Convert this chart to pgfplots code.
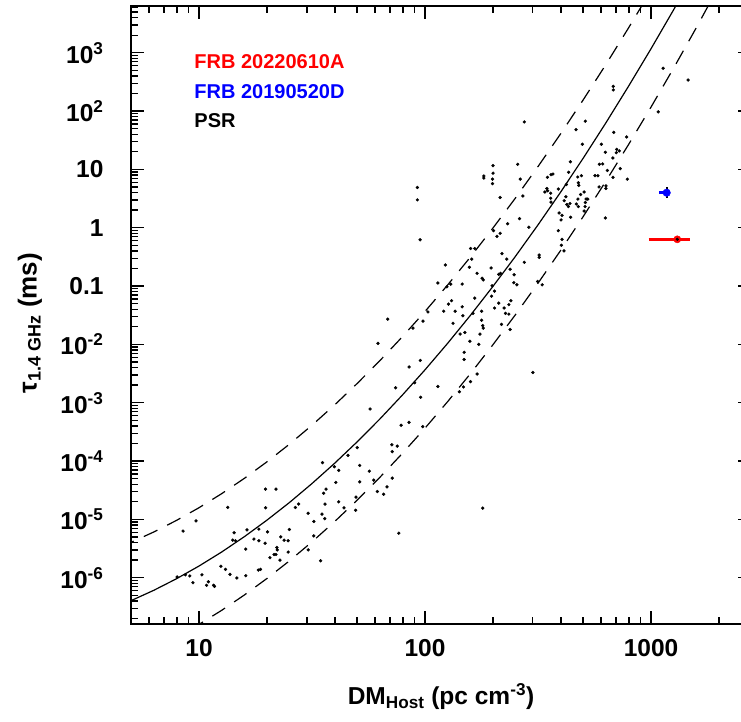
\documentclass[border=0pt]{standalone}
\usepackage{fontspec}
\setmainfont{Liberation Sans}
\usepackage{pgfplots}
\usepackage{pgfplotstable}
\pgfplotsset{compat=1.18}

\pgfplotstableread{
dm tau
8.5 6.3e-6
9.7 9.4e-6
13.4 1.6e-5
8.0 1.03e-6
8.7 1.12e-6
9.1 1.07e-6
9.4 8.2e-7
10.3 1.12e-6
11.0 8.5e-7
10.8 7.4e-7
11.6 7.4e-7
11.7 7.1e-7
12.5 1.57e-6
13.1 1.39e-6
13.7 1.14e-6
14.7 9.9e-7
16.1 1.08e-6
18.3 1.35e-6
18.7 1.39e-6
14.3 5.9e-6
14.1 4.4e-6
14.5 4.3e-6
16.3 6.6e-6
16.1 3.1e-6
18.4 6.8e-6
17.5 4.6e-6
18.4 4.3e-6
19.6 3.9e-6
20.1 6.1e-6
19.7 3.3e-5
21.9 3.3e-5
19.7 1.58e-5
23.0 5.0e-6
23.8 4.4e-6
24.8 4.3e-6
25.1 6.7e-6
22.1 3.3e-6
22.2 3.0e-6
21.5 2.5e-6
21.9 2.5e-6
20.6 2.2e-6
22.8 2.0e-6
24.8 2.75e-6
26.7 1.6e-5
27.6 1.83e-5
30.4 1.27e-5
32.2 9.2e-6
32.2 5.2e-6
30.4 3.0e-6
34.5 1.95e-6
35.2 9.4e-5
35.6 2.8e-5
36.5 3.3e-5
36.1 1.83e-5
35.0 1.23e-5
36.0 1.03e-5
39.7 8.0e-5
41.5 6.9e-5
40.3 4.3e-5
41.5 2.0e-5
43.8 1.58e-5
45.6 1.25e-4
68.4 2.7e-2
61.9 1.04e-2
103 3.6e-2
121 3.7e-2
127 4.9e-2
98 2.5e-2
88.4 1.9e-2
85 4.1e-3
95.3 5.3e-3
90 2.2e-3
74.1 1.8e-3
95.7 1.24e-3
114 1.9e-3
57.1 7.8e-4
78.4 4.1e-4
85 4.6e-4
97.7 3.9e-4
71.3 1.9e-4
75.4 1.8e-4
71.6 1.45e-4
50.1 1.7e-4
51.4 8.4e-5
56.7 6.7e-5
51.4 4.4e-5
59.3 4.7e-5
71.6 5.1e-5
67.9 3.6e-5
61.5 3.0e-5
65.6 2.7e-5
49.5 2.4e-5
49.3 1.43e-5
76.6 5.8e-6
180 1.56e-5
300 3.3e-3
158 1.13e-2
173 1.0e-2
149 7.3e-3
149 5.5e-3
170 3.1e-3
159 2.3e-3
148 1.86e-3
142 1.54e-3
200 11.6
257 12.2
182 7.7
182 7.1
200 8.6
199 6.8
199 5.7
264 6.8
271 3.5
215 3.3
92.5 4.9
92.5 3.0
95.1 0.62
262 1.43
232 1.17
288 1.02
201 0.89
215 0.80
208 0.71
159 0.44
166 0.44
161 0.29
219 0.36
230 0.29
157 0.21
123 0.23
170 0.165
179 0.136
181 0.127
196 0.204
212 0.159
216 0.165
238 0.194
248 0.156
247 0.114
255 0.105
275 0.255
320 0.34
320 0.31
315 0.12
330 0.105
130 0.108
125 0.097
114 0.113
146 0.108
198 0.101
203 0.082
197 0.067
166 0.062
131 0.056
146 0.044
147 0.031
136 0.037
178 0.037
163 0.034
212 0.051
224 0.042
235 0.048
240 0.056
227 0.034
235 0.033
203 0.042
178 0.026
180 0.021
181 0.019
133 0.023
150 0.016
143 0.015
175 0.015
218 0.022
238 0.018
440 13.5
432 8.9
348 7.3
361 8.1
368 8.3
474 7.4
477 5.9
346 4.7
339 4.1
349 4.3
360 3.9
389 4.6
420 3.4
413 2.9
360 3.2
361 2.75
424 2.5
431 2.3
438 2.6
467 2.55
477 2.3
392 1.79
404 1.63
400 1.36
441 1.51
389 0.89
404 0.63
401 0.50
412 0.40
275 65
681 265
681 230
1132 541
1076 97
1459 340
512 67
466 48
684 43
780 36
603 27
497 27
705 22
724 20.7
702 19.3
628 19.6
678 15.7
591 12.2
611 12.4
731 10.3
641 9.6
565 7.8
582 7.8
679 7.3
786 6.8
632 5.2
632 4.7
589 5.0
492 7.8
479 5.3
422 5.5
506 4.1
525 3.1
516 3.1
512 2.7
488 3.7
475 3.1
511 2.3
506 1.93
628 1.47
}\psrdata

\pgfplotstableread{
dm mid up lo
4.467 3.373e-7 3.373e-6 3.373e-8
5.012 4.055e-7 4.055e-6 4.055e-8
6.310 6.08e-7 6.08e-6 6.08e-8
7.943 9.58e-7 9.58e-6 9.58e-8
10 1.585e-6 1.585e-5 1.585e-7
12.59 2.754e-6 2.754e-5 2.754e-7
15.85 5.03e-6 5.03e-5 5.03e-7
19.95 9.65e-6 9.65e-5 9.65e-7
25.12 1.943e-5 1.943e-4 1.943e-6
31.62 4.116e-5 4.116e-4 4.116e-6
39.81 9.15e-5 9.15e-4 9.15e-6
50.12 2.138e-4 2.138e-3 2.138e-5
63.10 5.247e-4 5.247e-3 5.247e-5
79.43 1.353e-3 1.353e-2 1.353e-4
100 3.664e-3 3.664e-2 3.664e-4
125.9 1.042e-2 1.042e-1 1.042e-3
158.5 3.115e-2 3.115e-1 3.115e-3
199.5 9.781e-2 9.781e-1 9.781e-3
251.2 0.3227 3.227 0.03227
316.2 1.118 11.18 0.1118
398.1 4.069 40.69 0.4069
501.2 15.56 155.6 1.556
631.0 62.5 625 6.25
794.3 263.8 2638 26.38
1000 1169 11690 116.9
1259 5445 54450 544.5
1585 26640 266400 2664
1995 1.369e5 1.369e6 1.369e4
2512 7.39e5 7.39e6 7.39e4
3162 4.19e6 4.19e7 4.19e5
}\curves

\begin{document}
\begin{tikzpicture}
\begin{axis}[
  at={(0pt,0pt)}, anchor=south west,
  scale only axis, width=620pt, height=618pt,
  xmode=log, ymode=log,
  xmin=5, xmax=2770, ymin=1.607e-7, ymax=6320,
  xtick={10,100,1000}, xticklabels={10,100,1000},
  minor xtick={6,7,8,9,20,30,40,50,60,70,80,90,200,300,400,500,600,700,800,900,2000},
  ytick={1e-6,1e-5,1e-4,1e-3,1e-2,0.1,1,10,100,1000},
  yticklabels={10\textsuperscript{-6},10\textsuperscript{-5},10\textsuperscript{-4},10\textsuperscript{-3},10\textsuperscript{-2},0.1,1,10,10\textsuperscript{2},10\textsuperscript{3}},
  minor ytick={2e-7,3e-7,4e-7,5e-7,6e-7,7e-7,8e-7,9e-7,
    2e-6,3e-6,4e-6,5e-6,6e-6,7e-6,8e-6,9e-6,
    2e-5,3e-5,4e-5,5e-5,6e-5,7e-5,8e-5,9e-5,
    2e-4,3e-4,4e-4,5e-4,6e-4,7e-4,8e-4,9e-4,
    0.002,0.003,0.004,0.005,0.006,0.007,0.008,0.009,
    0.02,0.03,0.04,0.05,0.06,0.07,0.08,0.09,
    0.2,0.3,0.4,0.5,0.6,0.7,0.8,0.9,
    2,3,4,5,6,7,8,9,20,30,40,50,60,70,80,90,
    200,300,400,500,600,700,800,900,2000,3000,4000,5000,6000},
  tick align=inside,
  major tick length=12.7pt, minor tick length=7pt,
  tick style={black, line width=1.3pt},
  axis line style={line width=1.6pt},
  tick label style={font=\fontsize{24.5}{24.5}\selectfont\bfseries},
  xticklabel style={yshift=-12pt},
  yticklabel style={xshift=-24pt},
  xlabel={DM\textsubscript{Host} (pc cm\textsuperscript{-3})},
  ylabel={\fontsize{26}{26}\selectfont τ\textsubscript{\fontsize{18}{18}\selectfont 1.4 GHz} (ms)},
  label style={font=\fontsize{24.5}{24.5}\selectfont\bfseries},
  xlabel style={at={(axis description cs:0.5,-0.117)}, anchor=center},
  ylabel style={at={(axis description cs:-0.163,0.487)}, anchor=center},
  clip=true,
]
\addplot[black, line width=1.2pt] table[x=dm, y=mid] {\curves};
\addplot[black, line width=1.2pt, dash pattern=on 15pt off 11pt] table[x=dm, y=up] {\curves};
\addplot[black, line width=1.2pt, dash pattern=on 15pt off 11pt] table[x=dm, y=lo] {\curves};
\addplot[only marks, mark=*, mark size=1.45pt, black] table[x=dm, y=tau] {\psrdata};
% FRB 20220610A
\addplot[red, line width=2.7pt] coordinates {(977,0.632) (1489,0.632)};
\addplot[only marks, mark=*, mark size=3.6pt, red] coordinates {(1307,0.632)};
\addplot[only marks, mark=*, mark size=1.4pt, black] coordinates {(1307,0.632)};
% FRB 20190520D
\addplot[blue, line width=3pt] coordinates {(1088,3.98) (1214,3.98)};
\addplot[only marks, mark=*, mark size=3.8pt, blue] coordinates {(1173,3.98)};
\addplot[black, line width=1.8pt] coordinates {(1173,3.2) (1173,4.9)};
\node[anchor=west, inner sep=0pt, text=red, font=\fontsize{20}{20}\selectfont\bfseries] at (axis description cs:0.102,0.910) {FRB 20220610A};
\node[anchor=west, inner sep=0pt, text=blue, font=\fontsize{20}{20}\selectfont\bfseries] at (axis description cs:0.102,0.861) {FRB 20190520D};
\node[anchor=west, inner sep=0pt, text=black, font=\fontsize{20}{20}\selectfont\bfseries] at (axis description cs:0.102,0.814) {PSR};
\end{axis}
\pgfresetboundingbox
\path[use as bounding box] (-131pt,-97pt) rectangle (610pt,624pt);
\end{tikzpicture}
\end{document}
